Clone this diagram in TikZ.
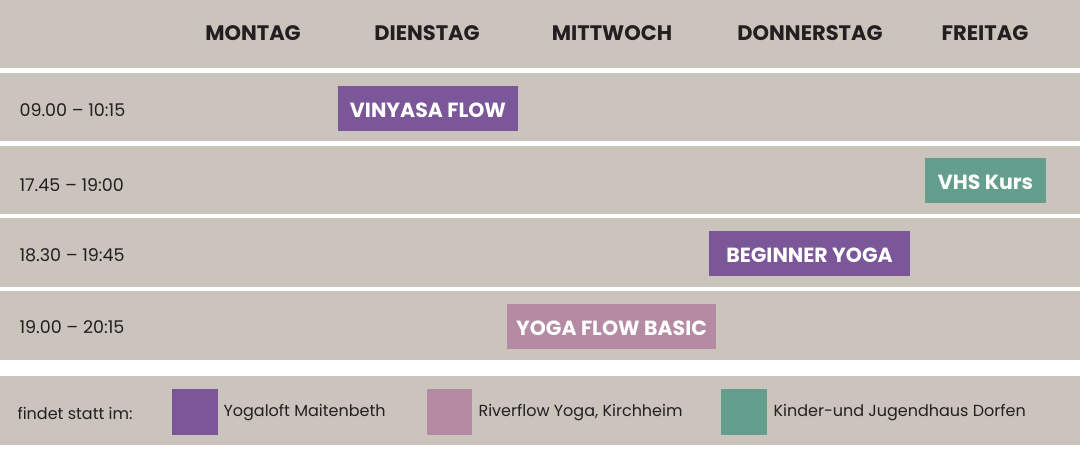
\documentclass[tikz,border=0pt]{standalone}
\usepackage{fontspec}
\setmainfont{Poppins}
\definecolor{bg}{HTML}{CBC4BD}
\definecolor{pur}{HTML}{7B5799}
\definecolor{pnk}{HTML}{B48BA2}
\definecolor{grn}{HTML}{649E8C}
\definecolor{txt}{HTML}{231F20}
\tikzset{
 band/.style={fill=bg,draw=none},
 day/.style={font=\fontsize{21}{21}\selectfont\bfseries,text=txt,anchor=center},
 tm/.style={font=\fontsize{17.5}{17.5}\selectfont,text=txt,anchor=west},
 cls/.style={font=\fontsize{20.5}{20.5}\selectfont\bfseries,text=white,anchor=center,inner sep=0},
 leg/.style={font=\fontsize{16}{16}\selectfont,text=txt,anchor=west}
}
\begin{document}
\begin{tikzpicture}[x=1pt,y=-1pt]
\useasboundingbox (0,0) rectangle (1080,450);
\fill[white] (0,0) rectangle (1080,450);
\fill[band] (0,0) rectangle (1080,68);
\fill[band] (0,73) rectangle (1080,141);
\fill[band] (0,146) rectangle (1080,214);
\fill[band] (0,218) rectangle (1080,287);
\fill[band] (0,291) rectangle (1080,360);
\fill[band] (0,376) rectangle (1080,445);
\node[day] (mo) at (253,33) {MONTAG};
\node[day] (di) at (427,33) {DIENSTAG};
\node[day] (mi) at (612,33) {MITTWOCH};
\node[day] (do) at (810,33) {DONNERSTAG};
\node[day] (fr) at (985,33) {FREITAG};
\node[tm] (t1) at (16,110) {09.00 – 10:15};
\node[tm] (t2) at (16,185) {17.45 – 19:00};
\node[tm] (t3) at (16,255) {18.30 – 19:45};
\node[tm] (t4) at (16,327) {19.00 – 20:15};
\fill[pur] (338,86) rectangle (518,131); \node[cls] (c1) at (428,110) {VINYASA FLOW};
\fill[grn] (925,158) rectangle (1046,203); \node[cls] (c2) at (985.5,182) {VHS Kurs};
\fill[pur] (709,231) rectangle (910,276); \node[cls] (c3) at (809.5,255) {BEGINNER YOGA};
\fill[pnk] (507,304) rectangle (716,349); \node[cls] (c4) at (611.5,328) {YOGA FLOW BASIC};
\node[leg] (l0) at (14,413) {findet statt im:};
\fill[pur] (172,389) rectangle (218,435); \node[leg] (l1) at (220,413) {Yogaloft Maitenbeth};
\fill[pnk] (427,389) rectangle (472,435); \node[leg] (l2) at (475,413) {Riverflow Yoga, Kirchheim};
\fill[grn] (721,389) rectangle (767,435); \node[leg] (l3) at (770,413) {Kinder-und Jugendhaus Dorfen};
\end{tikzpicture}
\end{document}
